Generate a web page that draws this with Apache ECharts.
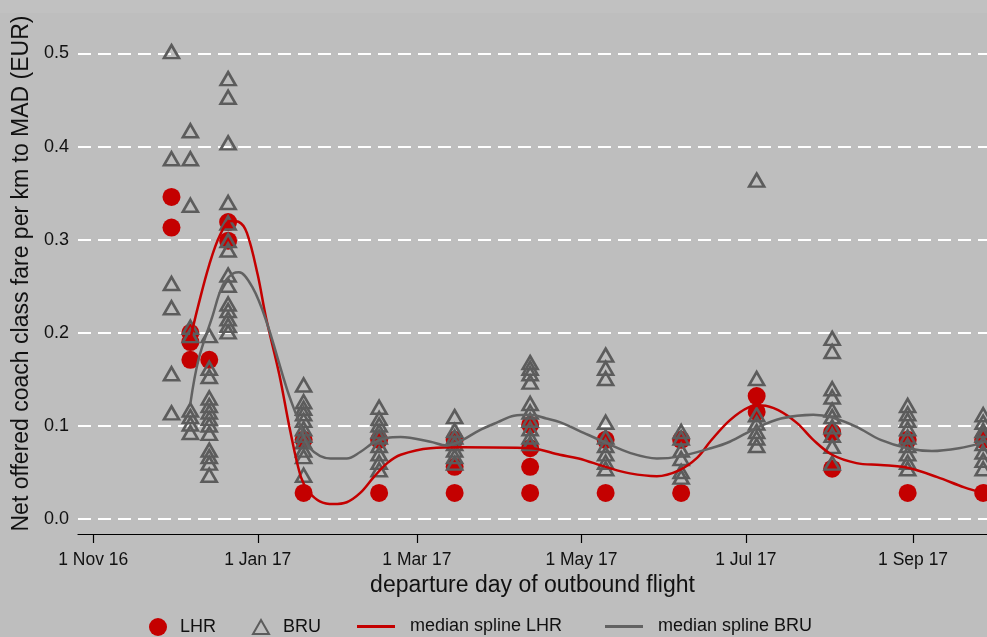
<!DOCTYPE html>
<html>
<head>
<meta charset="utf-8">
<script src="https://cdn.jsdelivr.net/npm/echarts@6/dist/echarts.min.js"></script>
<style>
html,body{margin:0;padding:0;background:#bebebe;}
#chart{width:987px;height:637px;}
</style>
</head>
<body>
<div id="chart"></div>
<script>
// ---- data ----
const sampleDates = ['2016-11-30','2016-12-07','2016-12-14','2016-12-21','2017-01-18','2017-02-15','2017-03-15','2017-04-12','2017-05-10','2017-06-07','2017-07-05','2017-08-02','2017-08-30','2017-09-27'];
const lhrFares = [
  [0.346, 0.313],
  [0.200, 0.190, 0.171],
  [0.171],
  [0.319, 0.299],
  [0.085, 0.028],
  [0.085, 0.028],
  [0.085, 0.056, 0.028],
  [0.101, 0.076, 0.056, 0.028],
  [0.085, 0.028],
  [0.085, 0.028],
  [0.132, 0.115],
  [0.093, 0.054],
  [0.085, 0.028],
  [0.085, 0.028]
];
const bruFares = [
  [0.502, 0.387, 0.253, 0.227, 0.156, 0.114],
  [0.417, 0.387, 0.337, 0.206, 0.197, 0.117, 0.110, 0.102, 0.093],
  [0.197, 0.162, 0.153, 0.130, 0.122, 0.115, 0.108, 0.101, 0.092, 0.074, 0.067, 0.060, 0.047],
  [0.473, 0.453, 0.404, 0.340, 0.318, 0.299, 0.289, 0.262, 0.251, 0.231, 0.224, 0.215, 0.208, 0.201],
  [0.144, 0.126, 0.119, 0.113, 0.106, 0.097, 0.090, 0.083, 0.074, 0.067, 0.047],
  [0.120, 0.108, 0.101, 0.094, 0.088, 0.079, 0.070, 0.061, 0.053],
  [0.110, 0.095, 0.088, 0.081, 0.074, 0.067, 0.060],
  [0.168, 0.162, 0.156, 0.147, 0.124, 0.115, 0.106, 0.097, 0.088, 0.081],
  [0.176, 0.162, 0.151, 0.104, 0.088, 0.079, 0.070, 0.061, 0.054],
  [0.094, 0.087, 0.074, 0.065, 0.051, 0.045],
  [0.364, 0.151, 0.112, 0.103, 0.094, 0.087, 0.079],
  [0.194, 0.180, 0.140, 0.131, 0.117, 0.110, 0.099, 0.090, 0.078, 0.060],
  [0.122, 0.113, 0.106, 0.097, 0.088, 0.079, 0.070, 0.061, 0.054],
  [0.112, 0.104, 0.095, 0.090, 0.081, 0.072, 0.063, 0.054]
];
const splineLhrDates = ['2016-12-07','2016-12-10','2016-12-14','2016-12-18','2016-12-22','2016-12-25','2016-12-28','2017-01-01','2017-01-04','2017-01-09','2017-01-13','2017-01-17','2017-01-20','2017-01-24','2017-01-29','2017-02-03','2017-02-08','2017-02-13','2017-02-18','2017-02-23','2017-03-06','2017-03-18','2017-04-12','2017-04-23','2017-04-30','2017-05-10','2017-05-19','2017-05-29','2017-06-06','2017-06-13','2017-06-18','2017-06-25','2017-07-02','2017-07-07','2017-07-13','2017-07-20','2017-07-26','2017-08-02','2017-08-11','2017-08-20','2017-08-30','2017-09-10','2017-09-20','2017-09-27'];
const splineLhrValues = [0.194,0.230,0.273,0.305,0.320,0.319,0.307,0.262,0.217,0.155,0.095,0.045,0.029,0.019,0.016,0.018,0.028,0.045,0.060,0.069,0.076,0.077,0.076,0.069,0.065,0.056,0.049,0.046,0.052,0.066,0.084,0.106,0.120,0.122,0.117,0.103,0.085,0.069,0.060,0.058,0.055,0.045,0.034,0.028];
const splineBruDates = ['2016-12-07','2016-12-10','2016-12-15','2016-12-19','2016-12-23','2016-12-25','2016-12-30','2017-01-04','2017-01-12','2017-01-17','2017-01-20','2017-01-28','2017-02-03','2017-02-08','2017-02-13','2017-02-18','2017-02-23','2017-03-06','2017-03-12','2017-03-18','2017-03-24','2017-03-31','2017-04-06','2017-04-12','2017-04-18','2017-04-23','2017-04-30','2017-05-10','2017-05-19','2017-05-29','2017-06-06','2017-06-18','2017-06-25','2017-07-05','2017-07-14','2017-07-26','2017-08-02','2017-08-11','2017-08-20','2017-08-30','2017-09-08','2017-09-18','2017-09-27'];
const splineBruValues = [0.124,0.171,0.216,0.251,0.264,0.265,0.249,0.214,0.138,0.099,0.077,0.065,0.065,0.072,0.082,0.087,0.088,0.083,0.079,0.085,0.095,0.104,0.111,0.112,0.108,0.104,0.095,0.082,0.071,0.065,0.067,0.076,0.083,0.098,0.108,0.112,0.109,0.099,0.085,0.076,0.073,0.076,0.082];
const xTickDates = ['2016-11-01','2017-01-01','2017-03-01','2017-05-01','2017-07-01','2017-09-01'];
const xTickLabels = ['1 Nov 16','1 Jan 17','1 Mar 17','1 May 17','1 Jul 17','1 Sep 17'];
const yTickValues = [0, 0.1, 0.2, 0.3, 0.4, 0.5];
const yTickLabels = ['0.0','0.1','0.2','0.3','0.4','0.5'];
const xRange = ['2016-10-26T08:00','2017-09-28T10:00'];
const yRange = [-0.0161, 0.5435];

// ---- build ----
function ms(s){ return Date.parse(s.length === 10 ? s + 'T00:00:00Z' : s + ':00Z'); }
function scatterData(groups){
  const out = [];
  groups.forEach((vals, i) => vals.forEach(v => out.push([ms(sampleDates[i]), v])));
  return out;
}
function lineData(dates, vals){ return dates.map((d, i) => [ms(d), vals[i]]); }
const xTickMs = xTickDates.map(ms);

const RED = '#c40000', GREY = '#5c5c5c', LGREY = '#626262', FONT = 'Liberation Sans, Arial, sans-serif';
const chart = echarts.init(document.getElementById('chart'), null, {renderer: 'canvas'});
const legendBase = {
  orient: 'horizontal', selectedMode: false, padding: 0,
  textStyle: {fontFamily: FONT, fontSize: 18, color: '#111'}
};
chart.setOption({
  backgroundColor: '#bebebe',
  animation: false,
  graphic: [{type: 'rect', left: 0, top: 0, shape: {width: 987, height: 13}, style: {fill: '#c1c1c1'}, silent: true, z: -10}],
  grid: {left: 78, right: 0, top: 13, bottom: 103, containLabel: false},
  xAxis: {
    type: 'value', min: ms(xRange[0]), max: ms(xRange[1]),
    axisLine: {show: true, onZero: false, lineStyle: {color: '#000', width: 1.2}},
    axisTick: {show: true, length: 9, lineStyle: {color: '#000', width: 1.2}, customValues: xTickMs},
    axisLabel: {customValues: xTickMs, margin: 17, fontFamily: FONT, fontSize: 17.5, color: '#111',
      formatter: v => { const i = xTickMs.indexOf(v); return i >= 0 ? xTickLabels[i] : ''; }},
    splitLine: {show: false},
    name: 'departure day of outbound flight', nameLocation: 'middle', nameGap: 33,
    nameTextStyle: {fontFamily: FONT, fontSize: 23, color: '#111'}
  },
  yAxis: {
    type: 'value', min: yRange[0], max: yRange[1],
    axisLine: {show: false},
    axisTick: {show: false, customValues: yTickValues},
    axisLabel: {customValues: yTickValues, margin: 9, fontFamily: FONT, fontSize: 18, color: '#111', padding: [6, 0, 0, 0],
      formatter: v => { const i = yTickValues.findIndex(t => Math.abs(t - v) < 1e-9); return i >= 0 ? yTickLabels[i] : ''; }},
    splitLine: {show: true, lineStyle: {color: '#ffffff', width: 2, type: [13, 7]}},
    name: 'Net offered coach class fare per km to MAD (EUR)', nameLocation: 'middle', nameGap: 43, nameRotate: 90,
    nameTextStyle: {fontFamily: FONT, fontSize: 23, color: '#111'}
  },
  legend: [
    Object.assign({}, legendBase, {left: 149, top: 618, itemWidth: 18, itemHeight: 18,
      data: [{name: 'LHR', icon: 'circle'}], textStyle: Object.assign({}, legendBase.textStyle, {padding: [0,0,0,8]})}),
    Object.assign({}, legendBase, {left: 252, top: 618, itemWidth: 16, itemHeight: 14,
      data: [{name: 'BRU', icon: 'triangle'}], textStyle: Object.assign({}, legendBase.textStyle, {padding: [0,0,0,9]})}),
    Object.assign({}, legendBase, {left: 357, top: 617.5, itemWidth: 38, itemHeight: 3,
      data: [{name: 'median spline LHR', icon: 'rect'}], itemStyle: {color: RED, borderWidth: 0},
      textStyle: Object.assign({}, legendBase.textStyle, {padding: [0,0,0,10]})}),
    Object.assign({}, legendBase, {left: 605, top: 617.5, itemWidth: 38, itemHeight: 3,
      data: [{name: 'median spline BRU', icon: 'rect'}], itemStyle: {color: LGREY, borderWidth: 0},
      textStyle: Object.assign({}, legendBase.textStyle, {padding: [0,0,0,10]})})
  ],
  series: [
    {name: 'LHR', type: 'scatter', symbol: 'circle', symbolSize: 18, clip: false,
      itemStyle: {color: RED, opacity: 1}, data: scatterData(lhrFares)},
    {name: 'BRU', type: 'scatter', symbol: 'triangle', symbolSize: [15, 13], clip: false,
      itemStyle: {color: 'rgba(0,0,0,0)', borderColor: GREY, borderWidth: 2.6, opacity: 1}, data: scatterData(bruFares)},
    {name: 'median spline LHR', type: 'line', symbol: 'none', showSymbol: false, smooth: 0.35, clip: false,
      lineStyle: {color: RED, width: 2.5}, itemStyle: {color: RED}, data: lineData(splineLhrDates, splineLhrValues)},
    {name: 'median spline BRU', type: 'line', symbol: 'none', showSymbol: false, smooth: 0.35, clip: false,
      lineStyle: {color: LGREY, width: 2.5}, itemStyle: {color: LGREY}, data: lineData(splineBruDates, splineBruValues)}
  ]
});
</script>
</body>
</html>
